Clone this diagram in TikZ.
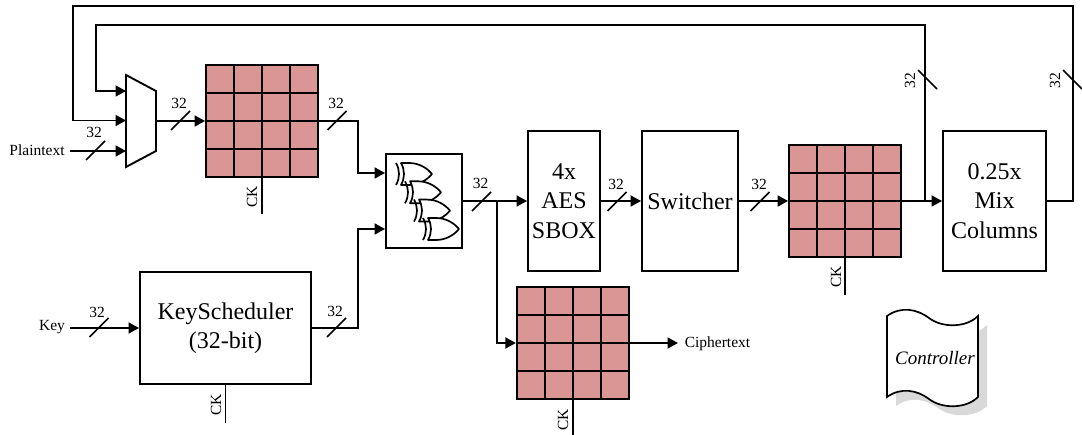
\documentclass[tikz,border=0pt]{standalone}
\usepackage{fontspec}
\setmainfont{Liberation Serif}
\usetikzlibrary{arrows.meta,calc}
\tikzset{
  wire/.style={line width=1.8pt,line join=miter},
  arrowwire/.style={wire,-{Triangle[length=10.5pt,width=11pt]}},
  blockbox/.style={draw,line width=1.9pt,fill=white,inner sep=0pt,align=center,font=\fontsize{24}{29.5}\selectfont},
  regbox/.style={draw,line width=1.9pt,fill=regred,minimum width=112pt,minimum height=112pt,inner sep=0pt},
  tinytext/.style={font=\fontsize{15.5}{17}\selectfont,inner sep=0pt},
  cklabel/.style={tinytext,rotate=90},
  gatepath/.style={line width=1.7pt,fill=white,line join=round}
}
\definecolor{regred}{RGB}{218,150,148}
\newcommand{\register}[3]{%
  \node[regbox] (#1) at (#2,#3) {};
  \foreach \d in {-28,0,28}{
    \draw[line width=1.8pt] ($(#1.center)+(\d,-56)$) -- ($(#1.center)+(\d,56)$);
    \draw[line width=1.8pt] ($(#1.center)+(-56,\d)$) -- ($(#1.center)+(56,\d)$);
  }%
}
\newcommand{\busmark}[5]{% name, slash centre x, y, label x, y
  \draw[line width=1.6pt] (#2-9.5,#3+9.5) -- (#2+9.5,#3-9.5);
  \node[tinytext] (#1) at (#4,#5) {32};
}
\newcommand{\vbusmark}[3]{%
  \draw[line width=1.6pt] (#2-9.5,#3-9.5) -- (#2+9.5,#3+9.5);
  \node[tinytext,rotate=90] (#1) at (#2-17.5,#3+1) {32};
}
\newcommand{\xorgate}[2]{%
  \begin{scope}[shift={(#1,#2)}]
    \draw[gatepath] (0,0) -- (8,0) .. controls (18,0) and (26,5) .. (31,11)
      .. controls (26,17) and (18,22) .. (8,22) -- (0,22) .. controls (4,15) and (4,7) .. (0,0) -- cycle;
    \draw[line width=1.7pt] (-5,0) .. controls (-1,7) and (-1,15) .. (-5,22);
  \end{scope}%
}
\begin{document}
\begin{tikzpicture}[x=1pt,y=-1pt]
\useasboundingbox (0,0) rectangle (1082,435);
% blocks
\register{regone}{262}{121}
\register{regtwo}{845}{201}
\register{regthree}{572.8}{343}
\node[blockbox,minimum width=76pt,minimum height=94pt] (xorbox) at (424,201) {};
\node[blockbox,minimum width=72pt,minimum height=140pt] (sbox) at (564,201) {4x\\AES\\SBOX};
\node[blockbox,minimum width=96pt,minimum height=140pt] (switcher) at (690,201) {Switcher};
\node[blockbox,minimum width=103pt,minimum height=140pt] (mix) at (994.5,201) {0.25x\\Mix\\Columns};
\node[blockbox,minimum width=171pt,minimum height=112pt] (keysched) at (225.5,328) {KeyScheduler\\(32-bit)};
% xor gates
\xorgate{401}{163}
\xorgate{410}{181.3}
\xorgate{419}{199.6}
\xorgate{428}{218}
% mux
\coordinate (muxa) at (126,91);
\coordinate (muxb) at (126,120.5);
\coordinate (muxc) at (126,151);
\coordinate (muxout) at (156,121);
\draw[line width=1.9pt,fill=white,line join=miter] (126,75) -- (156,91) -- (156,151) -- (126,167) -- cycle;
% free ends
\node[tinytext] (plain) at (37,150) {Plaintext};
\node[tinytext] (keytxt) at (52,327) {Key};
\node[tinytext] (cipher) at (717.5,343.5) {Ciphertext};
\coordinate (plainstart) at (70,151);
\coordinate (keystart) at (70,328);
\coordinate (cipherend) at (678,343);
\coordinate (innerL) at (96,25);
\coordinate (innerR) at (925,25);
\coordinate (outerL) at (73,6);
\coordinate (outerR) at (1073,6);
\coordinate (tapin) at (925,201);
\coordinate (tapout) at (497,201);
\coordinate (xorup) at (358,173);
\coordinate (xordown) at (358,229);
% connectors
\draw[arrowwire] (plainstart) -- (muxc);
\draw[arrowwire] (muxout) -- (regone.west);
\draw[arrowwire] (regone.east) -| (xorup) -- (xorbox.west |- xorup);
\draw[arrowwire] (keysched.east) -| (xordown) -- (xorbox.west |- xordown);
\draw[arrowwire] (keystart) -- (keysched.west);
\draw[arrowwire] (xorbox.east) -- (sbox.west);
\draw[arrowwire] (tapout) |- (regthree.west);
\draw[arrowwire] (sbox.east) -- (switcher.west);
\draw[arrowwire] (switcher.east) -- (regtwo.west);
\draw[arrowwire] (regtwo.east) -- (mix.west);
\draw[arrowwire] (tapin) -- (innerR) -- (innerL) -- (innerL |- muxa) -- (muxa);
\draw[arrowwire] (mix.east) -- (outerR |- mix.east) -- (outerR) -- (outerL) -- (outerL |- muxb) -- (muxb);
\draw[arrowwire] (regthree.east) -- (cipherend);
% clock lines
\coordinate (ckone) at (262,214);
\coordinate (cktwo) at (845,295);
\coordinate (ckthree) at (572.8,435);
\coordinate (ckkey) at (225.5,423);
\draw[wire] (regone.south) -- (ckone);
\draw[wire] (regtwo.south) -- (cktwo);
\draw[wire] (regthree.south) -- (ckthree);
\draw[wire] (keysched.south) -- (ckkey);
\node[cklabel] (ckta) at (252,197) {CK};
\node[cklabel] (cktb) at (836,277) {CK};
\node[cklabel] (cktc) at (563,420) {CK};
\node[cklabel] (cktd) at (216,405) {CK};
% bus marks
\busmark{ba}{95.5}{150.5}{94}{132.5}
\busmark{bb}{180.5}{120.5}{179}{103}
\busmark{bc}{337}{120.5}{336}{103}
\busmark{bd}{481.5}{201.5}{480.5}{183.5}
\busmark{be}{617}{201.5}{616}{184}
\busmark{bf}{760}{201.5}{759}{184}
\busmark{bg}{99}{327.5}{97}{312}
\busmark{bh}{336.5}{327.5}{335}{311}
\vbusmark{bi}{927.5}{79.5}
\vbusmark{bj}{1072.5}{79.5}
% controller
\fill[black!15] (896,325) .. controls (910,315) and (926,318) .. (938,327) .. controls (951,337) and (975,337) .. (987,325)
  -- (987,406) .. controls (975,418) and (951,418) .. (938,408) .. controls (926,399) and (910,396) .. (896,406) -- cycle;
\draw[line width=1.7pt,fill=white] (887,316) .. controls (901,306) and (917,309) .. (929,318) .. controls (942,328) and (966,328) .. (978,316)
  -- (978,397) .. controls (966,409) and (942,409) .. (929,399) .. controls (917,390) and (901,387) .. (887,397) -- cycle;
\node[font=\fontsize{19}{20}\selectfont\itshape,inner sep=0pt] (ctrl) at (935,358) {Controller};
\end{tikzpicture}
\end{document}
